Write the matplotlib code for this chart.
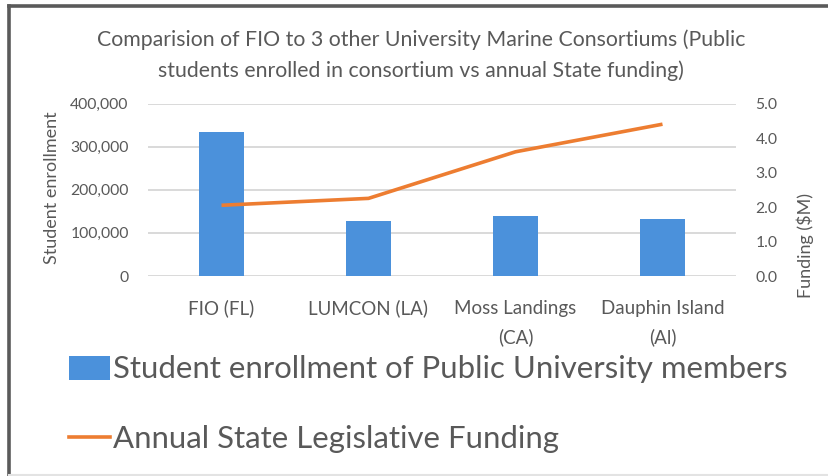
import matplotlib.pyplot as plt
from matplotlib.lines import Line2D
from matplotlib.patches import Patch
from matplotlib.ticker import FuncFormatter

plt.rcParams['font.family'] = ['Lato', 'DejaVu Sans']

# dados
categorias = ['FIO (FL)', 'LUMCON (LA)', 'Moss Landings\n(CA)', 'Dauphin Island\n(Al)']
matriculas = [335000, 128000, 138000, 132000]
financiamento = [2.05, 2.25, 3.6, 4.4]

cinza = '#595959'
azul = '#4B91DB'
laranja = '#ED7D31'

W, H = 829, 476
fig = plt.figure(figsize=(W / 100, H / 100), dpi=100)

# moldura cinza escura (esquerda e topo) como no print original
fig.add_artist(Line2D([9.5 / W, 9.5 / W], [0, 1 - 5.5 / H], transform=fig.transFigure,
                      color='#5a5a5a', linewidth=2.6))
fig.add_artist(Line2D([9.5 / W, 1], [1 - 5.5 / H, 1 - 5.5 / H], transform=fig.transFigure,
                      color='#5a5a5a', linewidth=2.6))
fig.add_artist(Line2D([9.5 / W, 1], [1.5 / H, 1.5 / H], transform=fig.transFigure,
                      color='#e3e3e3', linewidth=1.5))

ax = fig.add_axes([148 / W, 1 - 276 / H, (736 - 148) / W, (276 - 103.5) / H])
x = list(range(len(categorias)))
ax.bar(x, matriculas, width=0.31, color=azul, zorder=2)
ax.set_xlim(-0.5, len(categorias) - 0.5)
ax.set_ylim(0, 400000)
ax.set_yticks([0, 100000, 200000, 300000, 400000])
ax.yaxis.set_major_formatter(FuncFormatter(lambda v, p: f'{int(v):,}'))
ax.grid(axis='y', color='#d9d9d9', linewidth=1.4, zorder=0)
ax.set_axisbelow(True)
for s in ax.spines.values():
    s.set_visible(False)
ax.tick_params(axis='y', length=0, labelsize=11.3, labelcolor=cinza, pad=14)
ax.tick_params(axis='x', length=0, labelsize=13.5, labelcolor=cinza, pad=17)
ax.set_xticks(x)
ax.set_xticklabels(categorias, linespacing=1.8)
ax.set_ylabel('Student enrollment', fontsize=13, color=cinza)
ax.yaxis.set_label_coords((60 - 148) / 588, 0.51)

ax2 = ax.twinx()
ax2.plot(x, financiamento, color=laranja, linewidth=2.6, solid_capstyle='butt', zorder=3)
ax2.set_ylim(0, 5)
ax2.set_yticks([0, 1, 2, 3, 4, 5])
ax2.yaxis.set_major_formatter(FuncFormatter(lambda v, p: f'{v:.1f}'))
for s in ax2.spines.values():
    s.set_visible(False)
ax2.tick_params(axis='y', which='both', length=0, labelsize=11.3, labelcolor=cinza, pad=14)
ax2.set_ylabel('Funding ($M)', fontsize=13, color=cinza)
ax2.yaxis.set_label_coords((797 - 148) / 588, (276 - 245) / 172.5)

fig.text(421 / W, 1 - 55 / H,
         'Comparision of FIO to 3 other University Marine Consortiums (Public\n'
         'students enrolled in consortium vs annual State funding)',
         ha='center', va='center', fontsize=15.3, color=cinza, linespacing=1.6)

handles = [Patch(facecolor=azul, edgecolor='none'),
           Line2D([0], [0], color=laranja, linewidth=2.6)]
labels = ['Student enrollment of Public University members',
          'Annual State Legislative Funding']
fig.legend(handles, labels, loc='upper left', bbox_to_anchor=(57 / W, 1 - 343 / H),
           frameon=False, fontsize=22.4, labelcolor=cinza, handlelength=1.3,
           handleheight=0.8, handletextpad=0.1, labelspacing=1.35, borderaxespad=0)

fig.savefig('out.png', dpi=100, facecolor='white')
